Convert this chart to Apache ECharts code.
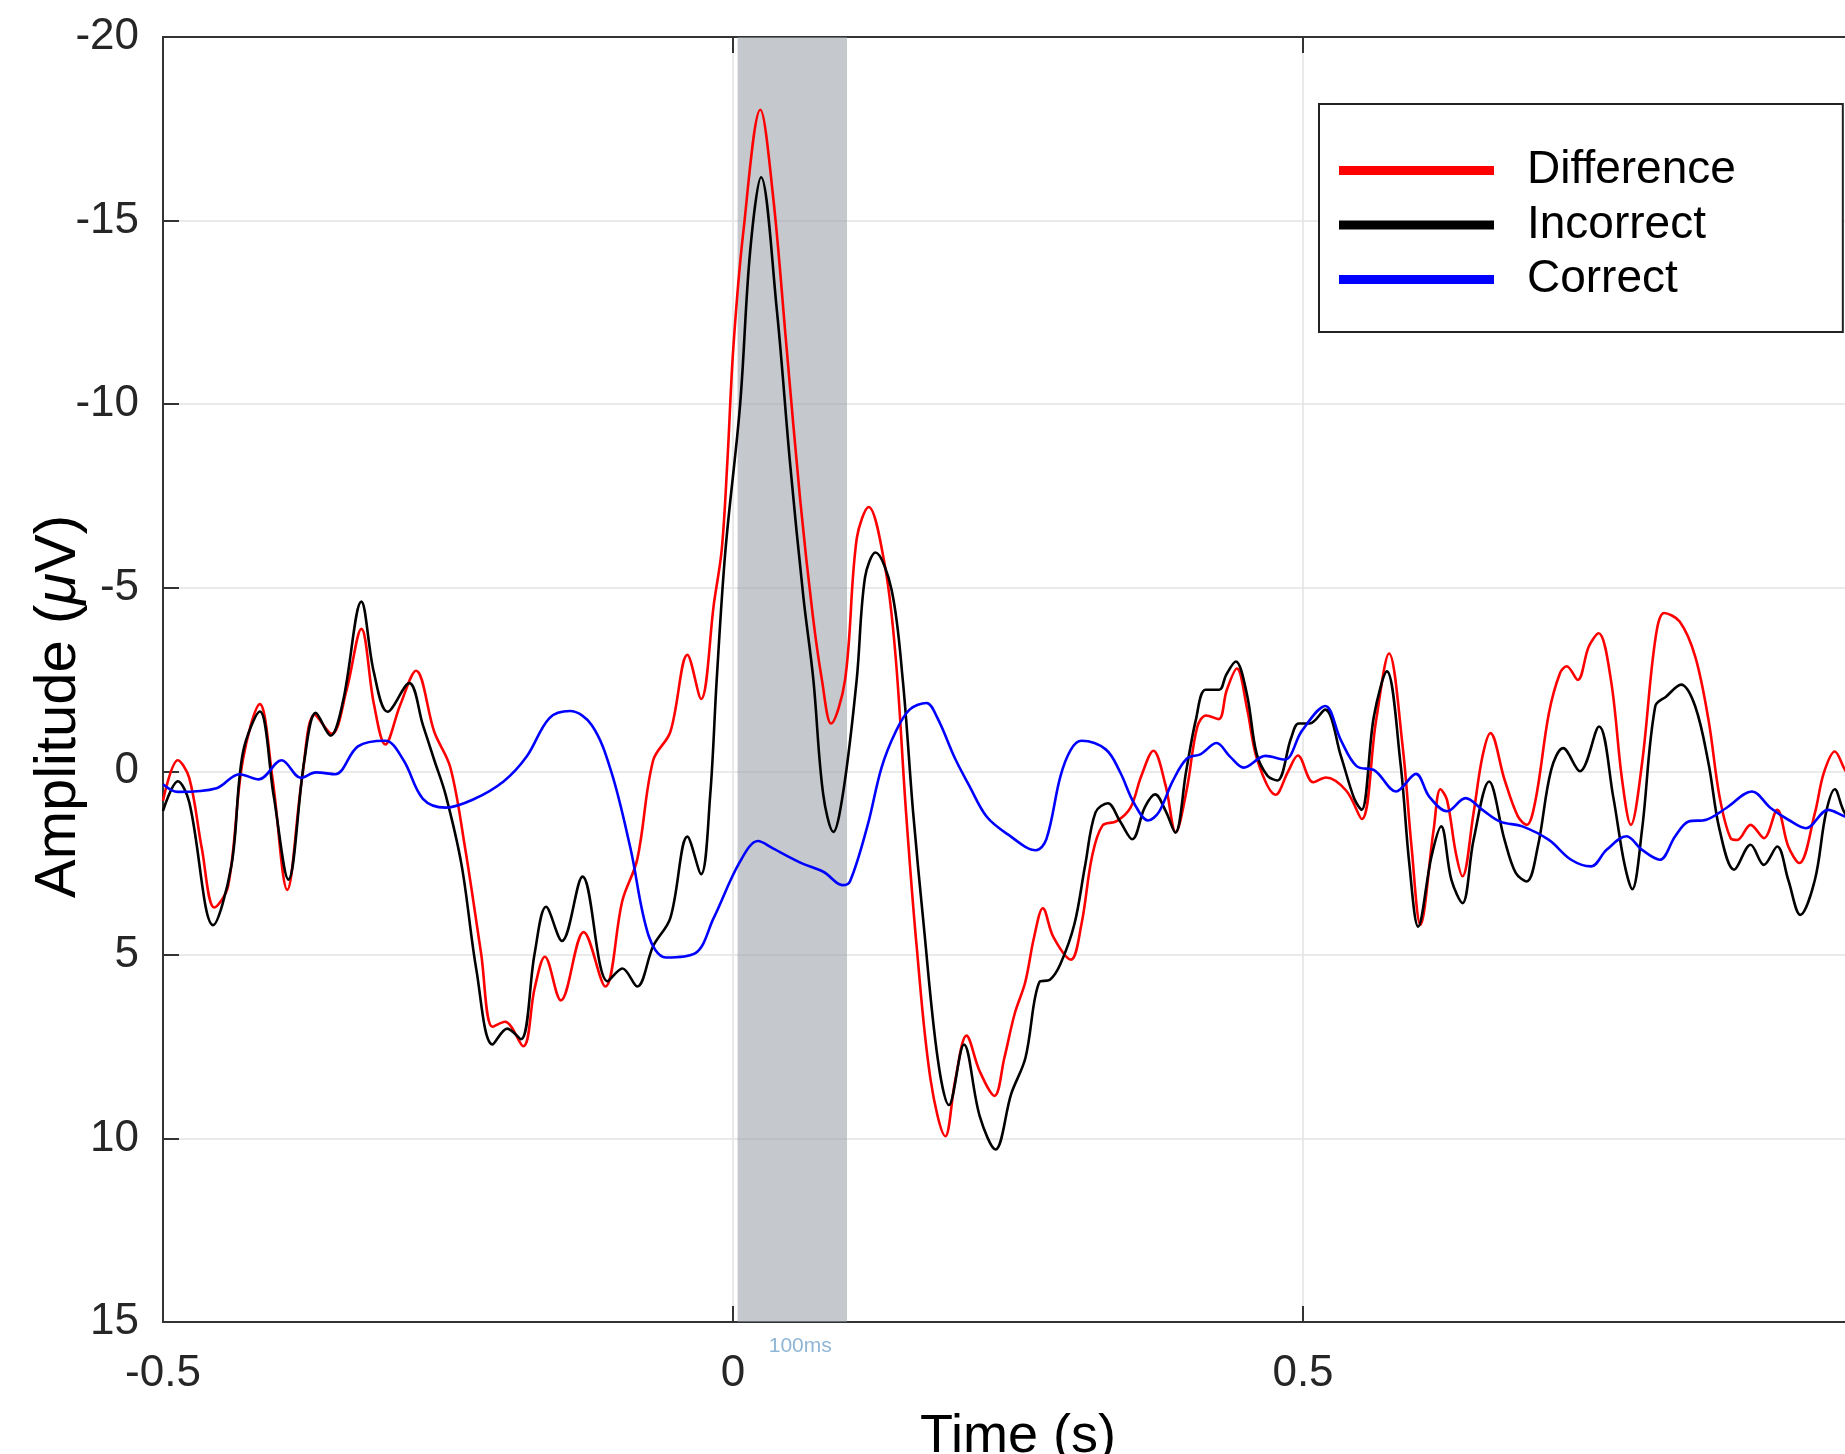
<!DOCTYPE html>
<html>
<head>
<meta charset="utf-8">
<title>Difference / Incorrect / Correct</title>
<script src="https://cdn.jsdelivr.net/npm/echarts@6.0.0/dist/echarts.min.js"></script>
<style>
  html, body { margin: 0; padding: 0; background: #fff; }
  #chart { width: 1845px; height: 1454px; }
</style>
</head>
<body>
<div id="chart"></div>
<script>
// values: time (s) and amplitude (uV), one pair of arrays per trace
const diffT = [-0.500, -0.487, -0.477, -0.466, -0.455, -0.443, -0.430, -0.415, -0.404, -0.391,
  -0.378, -0.367, -0.352, -0.339, -0.326, -0.315, -0.305, -0.292, -0.278, -0.262,
  -0.248, -0.235, -0.221, -0.211, -0.200, -0.184, -0.174, -0.165, -0.151, -0.131,
  -0.112, -0.097, -0.084, -0.070, -0.055, -0.040, -0.028, -0.0166, -0.0099, -0.005,
  0.0003, 0.009, 0.024, 0.035, 0.047, 0.059, 0.070, 0.078, 0.086, 0.0983,
  0.1085, 0.119, 0.1334, 0.1426, 0.1518, 0.1611, 0.1734, 0.1863, 0.1949, 0.2048,
  0.2164, 0.2294, 0.2380, 0.2472, 0.2564, 0.2641, 0.2718, 0.2811, 0.2964, 0.3057,
  0.3149, 0.3241, 0.3365, 0.3487, 0.3580, 0.3688, 0.3795, 0.3883, 0.3980, 0.4072,
  0.4150, 0.4261, 0.4330, 0.4420, 0.4510, 0.4600, 0.4760, 0.4870, 0.4955, 0.5090,
  0.5200, 0.5380, 0.5516, 0.5640, 0.5755, 0.5874, 0.5952, 0.6030, 0.6146, 0.6205,
  0.6263, 0.6341, 0.6399, 0.6496, 0.6574, 0.6644, 0.6768, 0.6885, 0.6963, 0.7040,
  0.7157, 0.7254, 0.7313, 0.7410, 0.7507, 0.7593, 0.7701, 0.7799, 0.7876, 0.7974,
  0.8090, 0.8168, 0.8304, 0.8440, 0.8557, 0.8654, 0.8751, 0.8810, 0.8926, 0.9043,
  0.9160, 0.9257, 0.9354, 0.9490, 0.9568, 0.9665, 0.9754, 0.985];
const diffV = [0.80, -0.30, 0.18, 2.09, 3.71, 3.14, -0.30, -1.83, 0.18, 3.23,
  0.18, -1.54, -1.02, -2.21, -3.88, -1.83, -0.73, -1.80, -2.74, -1.07,
  -0.11, 2.09, 4.95, 6.96, 6.82, 7.49, 5.91, 5.05, 6.24, 4.38,
  5.86, 3.52, 2.40, -0.30, -1.07, -3.17, -1.97, -4.60, -6.03, -8.40,
  -11.54, -14.67, -18.02, -15.71, -11.54, -7.37, -4.24, -2.49, -1.30, -2.49,
  -6.33, -7.20, -5.57, -3.14, 1.12, 4.77, 8.42, 9.94, 8.42, 7.20,
  8.17, 8.84, 7.81, 6.59, 5.74, 4.52, 3.73, 4.52, 5.13, 4.16,
  2.33, 1.48, 1.36, 0.99, 0.14, -0.56, 0.39, 1.66, 0.50, -1.20,
  -1.52, -1.42, -2.20, -2.80, -1.70, -0.30, 0.64, 0.00, -0.43, 0.30,
  0.17, 0.53, 1.30, -1.36, -3.21, -0.68, 2.05, 4.18, 1.59, 0.49,
  0.78, 2.23, 2.86, 1.14, -0.40, -1.04, 0.23, 1.23, 1.46, 0.78,
  -1.58, -2.67, -2.86, -2.49, -3.40, -3.76, -2.49, 0.23, 1.46, -0.22,
  -3.58, -4.31, -4.08, -3.13, -1.40, 0.69, 1.82, 1.87, 1.46, 1.82,
  1.05, 2.05, 2.50, 1.14, 0.05, -0.54, -0.04, 0.40];

const incT = [-0.500, -0.487, -0.477, -0.456, -0.440, -0.430, -0.415, -0.403, -0.390, -0.376,
  -0.366, -0.353, -0.342, -0.326, -0.315, -0.303, -0.284, -0.272, -0.262, -0.252,
  -0.238, -0.225, -0.211, -0.198, -0.186, -0.174, -0.164, -0.150, -0.132, -0.110,
  -0.097, -0.084, -0.070, -0.055, -0.040, -0.028, -0.020, -0.0143, -0.0066, 0.0062,
  0.0150, 0.0246, 0.0384, 0.0500, 0.0617, 0.0705, 0.079, 0.088, 0.097, 0.1085,
  0.1158, 0.1250, 0.1390, 0.1488, 0.1580, 0.1672, 0.1795, 0.1894, 0.2026, 0.2164,
  0.2303, 0.2441, 0.2565, 0.2688, 0.2780, 0.2872, 0.2995, 0.3088, 0.3180, 0.3288,
  0.3395, 0.3503, 0.3611, 0.3703, 0.3795, 0.3880, 0.3975, 0.4060, 0.4145, 0.4265,
  0.4325, 0.4410, 0.4508, 0.4593, 0.4688, 0.4775, 0.4895, 0.4962, 0.5057, 0.5195,
  0.5332, 0.5450, 0.5514, 0.5622, 0.5736, 0.5855, 0.5932, 0.6010, 0.6127, 0.6212,
  0.6302, 0.6399, 0.6496, 0.6632, 0.6768, 0.6866, 0.6963, 0.7060, 0.7177, 0.7282,
  0.7429, 0.7597, 0.7721, 0.7818, 0.7888, 0.7974, 0.8090, 0.8187, 0.8316, 0.8440,
  0.8557, 0.8654, 0.8782, 0.8926, 0.9043, 0.9160, 0.9257, 0.9362, 0.9490, 0.9587,
  0.9665, 0.9754, 0.985];
const incV = [1.08, 0.27, 0.84, 4.19, 2.57, -0.49, -1.63, 0.65, 2.95, -0.30,
  -1.59, -0.97, -1.92, -4.62, -2.69, -1.62, -2.40, -1.26, -0.30, 0.65,
  2.57, 5.43, 7.44, 7.01, 7.30, 4.96, 3.69, 4.62, 2.87, 5.72,
  5.37, 5.86, 4.76, 4.00, 1.78, 2.80, 0.65, -2.49, -6.03, -9.97,
  -14.15, -16.18, -12.58, -8.41, -4.76, -2.49, 0.60, 1.65, 0.50, -2.49,
  -5.28, -5.96, -4.96, -2.53, 1.12, 4.16, 7.81, 9.09, 7.44, 9.39,
  10.30, 8.78, 7.81, 5.74, 5.68, 5.25, 4.16, 2.58, 1.12, 0.87,
  1.36, 1.85, 0.99, 0.63, 1.08, 1.67, 0.00, -1.40, -2.22, -2.22,
  -2.62, -2.99, -2.10, -0.48, 0.12, 0.25, -0.90, -1.30, -1.30, -1.68,
  -0.42, 0.75, 1.05, -1.50, -2.72, -0.22, 2.50, 4.23, 2.32, 1.50,
  2.96, 3.59, 1.87, 0.28, 1.87, 2.77, 3.00, 2.05, -0.04, -0.63,
  0.00, -1.22, 0.69, 2.50, 3.21, 1.59, -1.77, -2.04, -2.36, -1.77,
  -0.22, 1.59, 2.68, 2.00, 2.55, 2.05, 2.96, 3.91, 2.96, 1.14,
  0.49, 1.14, 1.30];

const corT = [-0.500, -0.487, -0.453, -0.433, -0.416, -0.396, -0.379, -0.366, -0.349, -0.329,
  -0.305, -0.289, -0.272, -0.252, -0.228, -0.201, -0.181, -0.161, -0.143, -0.124,
  -0.107, -0.090, -0.074, -0.059, -0.033, -0.017, 0.006, 0.022, 0.035, 0.060,
  0.080, 0.096, 0.1026, 0.1180, 0.1303, 0.1426, 0.1549, 0.1697, 0.1795, 0.1949,
  0.2072, 0.2226, 0.2411, 0.2657, 0.2749, 0.2872, 0.2964, 0.3057, 0.3272, 0.3395,
  0.3518, 0.3641, 0.3734, 0.3857, 0.3980, 0.4103, 0.4242, 0.4360, 0.4480, 0.4670,
  0.4840, 0.4990, 0.5195, 0.5332, 0.5470, 0.5630, 0.5816, 0.5991, 0.6107, 0.6263,
  0.6426, 0.6574, 0.6729, 0.6924, 0.7157, 0.7352, 0.7527, 0.7663, 0.7838, 0.7974,
  0.8129, 0.8265, 0.8382, 0.8538, 0.8713, 0.8938, 0.9102, 0.9257, 0.9412, 0.9607,
  0.9754, 0.985];
const corV = [0.35, 0.56, 0.46, 0.08, 0.22, -0.30, 0.18, 0.03, 0.08, -0.68,
  -0.83, -0.30, 0.75, 0.99, 0.77, 0.27, -0.40, -1.45, -1.64, -1.26,
  -0.01, 2.09, 4.48, 5.07, 4.95, 4.00, 2.47, 1.90, 2.10, 2.50,
  2.75, 3.10, 3.00, 1.48, -0.10, -1.07, -1.68, -1.86, -1.44, -0.34,
  0.39, 1.24, 1.72, 2.15, 1.85, 0.14, -0.59, -0.83, -0.59, 0.02,
  0.87, 1.34, 1.12, 0.27, -0.34, -0.47, -0.77, -0.40, -0.10, -0.42,
  -0.32, -1.10, -1.78, -0.85, -0.14, -0.02, 0.55, 0.07, 0.69, 1.09,
  0.73, 1.05, 1.37, 1.50, 1.87, 2.41, 2.59, 2.14, 1.77, 2.14,
  2.41, 1.77, 1.37, 1.32, 1.00, 0.55, 1.00, 1.32, 1.55, 1.05,
  1.23, 1.30];

const seriesNames = ['Difference', 'Incorrect', 'Correct'];
const seriesColors = ['#ff0000', '#000000', '#0000ff'];
const windowStart = 0.004;
const windowEnd = 0.1;
const windowLabel = '100ms';

const pairs = (ts, vs) => ts.map((t, i) => [t, vs[i]]);
const traces = [pairs(diffT, diffV), pairs(incT, incV), pairs(corT, corV)];

const font = 'Liberation Sans, Arial, sans-serif';
const axisColor = '#333333';

const chart = echarts.init(document.getElementById('chart'));

const lineSeries = traces.map((data, i) => ({
  name: seriesNames[i],
  type: 'line',
  data: data,
  symbol: 'none',
  showSymbol: false,
  smooth: 0.35,
  z: 3 + i,
  lineStyle: { color: seriesColors[i], width: 2.6 },
  itemStyle: { color: seriesColors[i] },
}))

chart.setOption({
  animation: false,
  backgroundColor: '#ffffff',
  textStyle: { fontFamily: font },
  grid: {
    left: 163,
    top: 37,
    right: -28,
    bottom: 132,
    containLabel: false,
    outerBoundsMode: 'none',
  },
  legend: {
    data: seriesNames,
    orient: 'vertical',
    left: 1319,
    top: 104,
    icon: 'rect',
    itemWidth: 155,
    itemHeight: 9,
    itemGap: 8.5,
    padding: [43.5, 107, 29.5, 20],
    borderColor: '#222222',
    borderWidth: 2,
    backgroundColor: '#ffffff',
    selectedMode: false,
    textStyle: {
      fontFamily: font,
      fontSize: 46,
      lineHeight: 46,
      color: '#000000',
      padding: [0, 0, 0, 28],
    },
  },
  xAxis: [
    {
      type: 'value',
      position: 'bottom',
      min: -0.5,
      max: 1.0,
      interval: 0.5,
      axisLine: { show: true, onZero: false, lineStyle: { color: axisColor, width: 2 } },
      axisTick: { show: true, inside: true, length: 16, lineStyle: { color: axisColor, width: 2 } },
      axisLabel: { fontSize: 44, color: '#262626', margin: 30, showMaxLabel: false },
      splitLine: { show: true, lineStyle: { color: '#e3e3e3', width: 1.5 } },
      name: 'Time (s)',
      nameLocation: 'middle',
      nameGap: 88,
      nameMoveOverlap: false,
      nameTextStyle: { fontSize: 54, color: '#000000', fontFamily: font },
    },
    {
      type: 'value',
      position: 'top',
      min: -0.5,
      max: 1.0,
      interval: 0.5,
      axisLine: { show: true, onZero: false, lineStyle: { color: axisColor, width: 2 } },
      axisTick: { show: true, inside: true, length: 16, lineStyle: { color: axisColor, width: 2 } },
      axisLabel: { show: false },
      splitLine: { show: false },
    },
  ],
  yAxis: {
    type: 'value',
    inverse: true,
    min: -20,
    max: 15,
    interval: 5,
    axisLine: { show: true, onZero: false, lineStyle: { color: axisColor, width: 2 } },
    axisTick: { show: true, inside: true, length: 16, lineStyle: { color: axisColor, width: 2 } },
    axisLabel: { fontSize: 44, color: '#262626', margin: 24, padding: [7, 0, 0, 0] },
    splitLine: { show: true, lineStyle: { color: '#e3e3e3', width: 1.5 } },
    name: 'Amplitude ({mu|μ}V)',
    nameLocation: 'middle',
    nameGap: 75,
    nameMoveOverlap: false,
    nameRotate: 90,
    nameTextStyle: {
      fontSize: 58,
      color: '#000000',
      fontFamily: font,
      padding: [0, 54, 0, 0],
      rich: {
        mu: { fontSize: 58, fontStyle: 'italic', color: '#000000', fontFamily: font },
      },
    },
  },
  series: [
    {
      name: 'window',
      type: 'line',
      data: [],
      z: 1,
      markArea: {
        silent: true,
        itemStyle: { color: 'rgba(150,156,166,0.55)' },
        label: {
          show: true,
          position: 'bottom',
          distance: 14,
          offset: [8, 0],
          formatter: windowLabel,
          color: '#8fb6d6',
          fontSize: 21,
          fontFamily: font,
        },
        data: [[{ xAxis: windowStart }, { xAxis: windowEnd }]],
      },
    },
    ...lineSeries,
  ],
})
</script>
</body>
</html>
